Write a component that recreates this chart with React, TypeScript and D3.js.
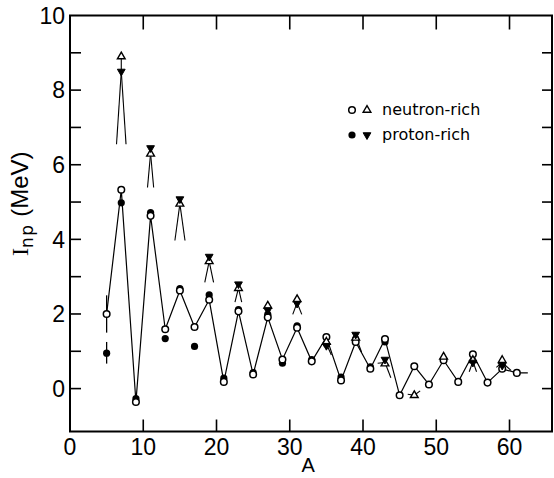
import React from 'react';
import * as d3 from 'd3';

// odd mass numbers, open circles (neutron-rich), joined by the line
const massN = [5, 7, 9, 11, 13, 15, 17, 19, 21, 23, 25, 27, 29, 31, 33, 35, 37, 39, 41, 43, 45, 47, 49, 51, 53, 55, 57, 59, 61];
const inpN = [2.0, 5.33, -0.36, 4.63, 1.59, 2.63, 1.65, 2.38, 0.18, 2.07, 0.38, 1.91, 0.78, 1.63, 0.73, 1.38, 0.22, 1.25, 0.53, 1.33, -0.18, 0.6, 0.11, 0.76, 0.18, 0.92, 0.16, 0.53, 0.42];
// line runs out past the last point
const tailA = 62.5;

// filled circles (proton-rich)
const massP = [5, 7, 9, 11, 13, 15, 17, 19, 21, 23, 25, 27, 29, 31, 33, 35, 37, 39, 41, 43];
const inpP = [0.95, 4.98, -0.27, 4.72, 1.34, 2.68, 1.13, 2.51, 0.28, 2.12, 0.43, 1.99, 0.68, 1.68, 0.78, 1.2, 0.31, 1.33, 0.58, 1.25];

// triangles
const triNA = [7, 11, 15, 19, 23, 27, 31, 35, 39, 43, 47, 51, 55, 59];
const triNV = [8.9, 6.29, 4.95, 3.41, 2.69, 2.22, 2.39, 1.25, 1.36, 0.67, -0.18, 0.85, 0.76, 0.76];
const triPA = [7, 11, 15, 19, 23, 27, 31, 35, 39, 43, 55, 59];
const triPV = [8.5, 6.45, 5.08, 3.54, 2.8, 2.1, 2.28, 1.15, 1.45, 0.78, 0.7, 0.62];

// short line pieces hanging from the triangles
const legA = [7, 7, 7, 11, 11, 15, 15, 19, 19, 23, 23, 31, 31, 35, 39, 43, 43, 47, 47, 55, 55, 59, 59];
const legFrom = [8.5, 8.5, 8.5, 6.3, 6.3, 4.95, 4.95, 3.41, 3.41, 2.69, 2.69, 2.3, 2.3, 1.2, 1.4, 0.7, 0.7, -0.18, -0.18, 0.73, 0.73, 0.7, 0.7];
const legToA = [7, 6.35, 7.65, 10.58, 11.42, 14.32, 15.7, 18.4, 19.6, 22.52, 23.44, 30.41, 31.64, 35.68, 39.8, 42.0, 43.8, 46.1, 47.8, 54.5, 55.5, 58.2, 60.2];
const legTo = [8.9, 6.55, 6.55, 5.39, 5.39, 3.97, 3.97, 2.85, 2.85, 2.32, 2.32, 1.99, 1.99, 0.9, 0.98, 0.68, 0.29, -0.15, -0.06, 0.45, 0.45, 0.57, 0.49];

// error bars at A = 5
const errA = [5, 5];
const errLo = [1.5, 0.67];
const errHi = [2.5, 1.25];

const xTicks = [0, 10, 20, 30, 40, 50, 60];
const yTicks = [0, 2, 4, 6, 8, 10];
const yMinor = [-1, 0, 1, 2, 3, 4, 5, 6, 7, 8, 9, 10];

const W = 554;
const H = 478;
const left = 70, right = 552, top = 15.5, bottom = 431.5;

export default function App() {
  const x = d3.scaleLinear().domain([0, 65.8]).range([left, right]);
  const y = d3.scaleLinear().domain([-1.15, 10]).range([bottom, top]);

  const pts: [number, number][] = massN.map((a, i) => [a, inpN[i]]);
  pts.push([tailA, inpN[inpN.length - 1]]);
  const line = d3.line<[number, number]>().x(d => x(d[0])).y(d => y(d[1]));

  const tri = d3.symbol().type(d3.symbolTriangle).size(26)() as string;
  const numFont = "'Liberation Sans', Arial, sans-serif";
  const txtFont = "'DejaVu Sans', sans-serif";

  return (
    <svg width={W} height={H} style={{ position: 'absolute', left: 0, top: 0, background: '#fff' }}>
      {/* frame */}
      <rect x={left} y={top} width={right - left} height={bottom - top} fill="none" stroke="#000" strokeWidth={2} />

      {/* ticks */}
      {yMinor.filter(v => v > -1 && v < 10).map(v => (
        <g key={'yt' + v}>
          <line x1={left} x2={left + 11} y1={y(v)} y2={y(v)} stroke="#000" strokeWidth={1.6} />
          <line x1={right} x2={right - 10} y1={y(v)} y2={y(v)} stroke="#000" strokeWidth={1.6} />
        </g>
      ))}
      {xTicks.filter(v => v > 0).map(v => (
        <g key={'xt' + v}>
          <line x1={x(v)} x2={x(v)} y1={bottom} y2={bottom - 12} stroke="#000" strokeWidth={1.6} />
          <line x1={x(v)} x2={x(v)} y1={top} y2={top + 14} stroke="#000" strokeWidth={1.6} />
        </g>
      ))}

      {/* tick labels */}
      {yTicks.map(v => (
        <text key={'yl' + v} x={65} y={y(v)} dy="0.36em" textAnchor="end" fontFamily={numFont} fontSize={23}>{v}</text>
      ))}
      {xTicks.map(v => (
        <text key={'xl' + v} x={x(v)} y={455} textAnchor="middle" fontFamily={numFont} fontSize={23}>{v}</text>
      ))}

      {/* axis titles */}
      <text x={x(32.5)} y={472} textAnchor="middle" fontFamily={numFont} fontSize={20}>A</text>
      <text transform="translate(28,256) rotate(-90)" fontFamily={numFont} fontSize={24}>
        <tspan fontFamily="'Liberation Serif', serif">I</tspan>
        <tspan fontFamily={txtFont} fontSize={17} dy={5} letterSpacing={1.5}>np</tspan>
        <tspan dy={-5}>{' (MeV)'}</tspan>
      </text>

      {/* main line */}
      <path d={line(pts) as string} fill="none" stroke="#000" strokeWidth={1.2} />

      {/* error bars */}
      {errA.map((a, i) => (
        <line key={'e' + i} x1={x(a)} x2={x(a)} y1={y(errLo[i])} y2={y(errHi[i])} stroke="#000" strokeWidth={1.3} />
      ))}

      {/* legs */}
      {legA.map((a, i) => (
        <line key={'l' + i} x1={x(a)} y1={y(legFrom[i])} x2={x(legToA[i])} y2={y(legTo[i])} stroke="#000" strokeWidth={1.1} />
      ))}

      {/* proton-rich circles */}
      {massP.map((a, i) => (
        <circle key={'pc' + i} cx={x(a)} cy={y(inpP[i])} r={3.6} fill="#000" />
      ))}
      {/* neutron-rich circles */}
      {massN.map((a, i) => (
        <circle key={'nc' + i} cx={x(a)} cy={y(inpN[i])} r={3.3} fill="#fff" stroke="#000" strokeWidth={1.5} />
      ))}
      {/* triangles */}
      {triNA.map((a, i) => (
        <path key={'nt' + i} d={tri} transform={`translate(${x(a)},${y(triNV[i])})`} fill="#fff" stroke="#000" strokeWidth={1.4} />
      ))}
      {triPA.map((a, i) => (
        <path key={'pt' + i} d={tri} transform={`translate(${x(a)},${y(triPV[i])}) rotate(180)`} fill="#000" stroke="#000" strokeWidth={1} />
      ))}

      {/* legend */}
      <circle cx={352} cy={110} r={3.3} fill="#fff" stroke="#000" strokeWidth={1.5} />
      <path d={tri} transform="translate(367,110)" fill="#fff" stroke="#000" strokeWidth={1.4} />
      <text x={382} y={115} fontFamily={txtFont} fontSize={16}>neutron-rich</text>
      <circle cx={352} cy={135} r={3.6} fill="#000" />
      <path d={tri} transform="translate(367,135) rotate(180)" fill="#000" stroke="#000" strokeWidth={1} />
      <text x={382} y={140} fontFamily={txtFont} fontSize={16}>proton-rich</text>
    </svg>
  );
}
